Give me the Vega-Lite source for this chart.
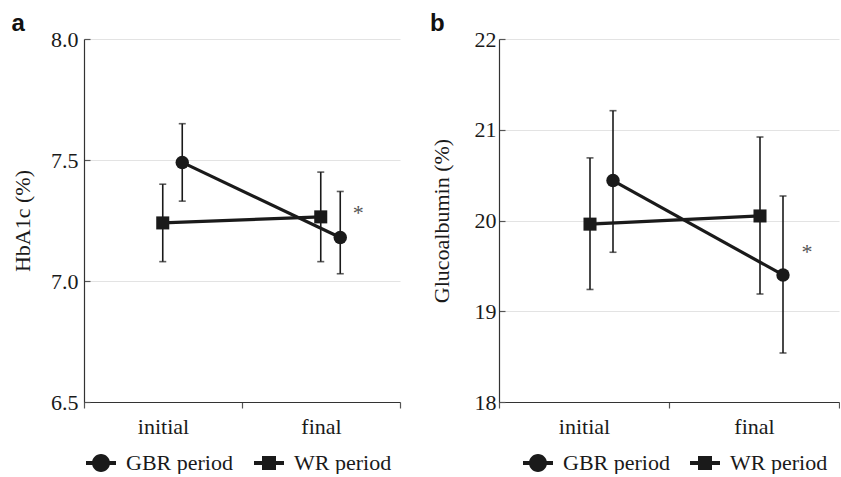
{
  "$schema": "https://vega.github.io/schema/vega-lite/v6.json",
  "padding": {"left": 11, "top": 12, "right": 0, "bottom": 0},
  "spacing": 29,
  "datasets": {
    "hba1c": [
      {"period": "initial", "series": "GBR period", "mean": 7.49, "lo": 7.33, "hi": 7.65, "sig": ""},
      {"period": "final", "series": "GBR period", "mean": 7.18, "lo": 7.03, "hi": 7.37, "sig": "*"},
      {"period": "initial", "series": "WR period", "mean": 7.24, "lo": 7.08, "hi": 7.40, "sig": ""},
      {"period": "final", "series": "WR period", "mean": 7.265, "lo": 7.08, "hi": 7.45, "sig": ""}
    ],
    "ga": [
      {"period": "initial", "series": "GBR period", "mean": 20.44, "lo": 19.65, "hi": 21.21, "sig": ""},
      {"period": "final", "series": "GBR period", "mean": 19.40, "lo": 18.54, "hi": 20.27, "sig": "*"},
      {"period": "initial", "series": "WR period", "mean": 19.96, "lo": 19.24, "hi": 20.69, "sig": ""},
      {"period": "final", "series": "WR period", "mean": 20.05, "lo": 19.19, "hi": 20.92, "sig": ""}
    ]
  },
  "config": {
    "font": "Liberation Serif",
    "view": {"stroke": null},
    "axis": {
      "labelFont": "Liberation Serif", "labelFontSize": 22, "labelColor": "#1a1a1a",
      "titleFont": "Liberation Serif", "titleFontSize": 22, "titleFontWeight": "normal", "titleColor": "#1a1a1a",
      "domainColor": "#333333", "tickColor": "#555555", "gridColor": "#e3e3e3", "domainWidth": 1.2, "tickWidth": 1.2
    },
    "title": {"font": "Liberation Sans", "fontSize": 24, "fontWeight": "bold", "anchor": "start", "frame": "bounds", "offset": -8, "color": "#111111"}
  },
  "resolve": {"scale": {"shape": "independent", "xOffset": "independent", "x": "independent", "y": "independent"}, "legend": {"shape": "independent"}},
  "hconcat": [
    {
      "width": 316, "height": 363,
      "title": {"text": "a"},
      "data": {"name": "hba1c"},
      "encoding": {
        "x": {"field": "period", "type": "nominal", "sort": ["initial", "final"], "title": null,
              "scale": {"paddingInner": 0, "paddingOuter": 0},
              "axis": {"labelAngle": 0, "tickBand": "extent", "tickSize": 6, "labelPadding": 8, "grid": false}},
        "xOffset": {"field": "series", "type": "nominal",
                    "scale": {"domain": ["WR period", "GBR period"], "range": [69, 108], "paddingInner": 0, "paddingOuter": 0}}
      },
      "layer": [
        {
          "mark": {"type": "rule", "color": "#1a1a1a", "strokeWidth": 1.6},
          "encoding": {
            "y": {"field": "lo", "type": "quantitative", "title": "HbA1c (%)",
                  "scale": {"domain": [6.5, 8.0], "nice": false, "zero": false},
                  "axis": {"values": [6.5, 7.0, 7.5, 8.0], "format": ".1f", "grid": true, "tickSize": -6, "labelPadding": 12, "titlePadding": 16}},
            "y2": {"field": "hi"}
          }
        },
        {
          "mark": {"type": "tick", "color": "#1a1a1a", "size": 7, "thickness": 1.6, "orient": "horizontal"},
          "encoding": {"y": {"field": "lo", "type": "quantitative"}}
        },
        {
          "mark": {"type": "tick", "color": "#1a1a1a", "size": 7, "thickness": 1.6, "orient": "horizontal"},
          "encoding": {"y": {"field": "hi", "type": "quantitative"}}
        },
        {
          "mark": {"type": "line", "color": "#1a1a1a", "strokeWidth": 3.2},
          "encoding": {"y": {"field": "mean", "type": "quantitative"}, "detail": {"field": "series"}}
        },
        {
          "mark": {"type": "point", "filled": true, "opacity": 1, "color": "#1a1a1a"},
          "encoding": {
            "y": {"field": "mean", "type": "quantitative"},
            "shape": {"field": "series", "type": "nominal", "scale": {"domain": ["GBR period", "WR period"], "range": ["circle", "square"]}, "legend": null},
            "size": {"field": "series", "type": "nominal", "scale": {"domain": ["GBR period", "WR period"], "range": [180, 170]}, "legend": null}
          }
        },
        {
          "transform": [{"filter": "datum.sig == '*'"}],
          "mark": {"type": "text", "dx": 18, "dy": -24, "fontSize": 22, "font": "Liberation Serif", "color": "#555555"},
          "encoding": {"y": {"field": "mean", "type": "quantitative"}, "text": {"field": "sig"}}
        },
        {
          "mark": {"type": "point", "opacity": 0, "filled": true, "color": "#1a1a1a"},
          "encoding": {
            "y": {"field": "mean", "type": "quantitative"},
            "shape": {"field": "series", "type": "nominal",
                      "scale": {"domain": ["GBR period", "WR period"],
                                "range": ["M-1.5,-0.2H1.5V0.2H-1.5ZM0.9,0A0.9,0.9,0,1,1,-0.9,0A0.9,0.9,0,1,1,0.9,0Z", "M-1.5,-0.2H1.5V0.2H-1.5ZM-0.7,-0.7H0.7V0.7H-0.7Z"]},
                      "legend": {"title": null, "orient": "none", "legendX": 6, "legendY": 413, "direction": "horizontal",
                                 "labelFont": "Liberation Serif", "labelFontSize": 22, "labelColor": "#1a1a1a",
                                 "symbolSize": 400, "labelOffset": 14, "columnPadding": 21,
                                 "symbolFillColor": "#1a1a1a", "symbolStrokeWidth": 0, "symbolOpacity": 1,
                                 "encode": {"symbols": {"update": {"opacity": {"value": 1}, "fill": {"value": "#1a1a1a"}}}}}}
          }
        }
      ],
      "resolve": {"scale": {"shape": "independent", "size": "independent"}}
    },
    {
      "width": 340, "height": 363,
      "title": {"text": "b"},
      "data": {"name": "ga"},
      "encoding": {
        "x": {"field": "period", "type": "nominal", "sort": ["initial", "final"], "title": null,
              "scale": {"paddingInner": 0, "paddingOuter": 0},
              "axis": {"labelAngle": 0, "tickBand": "extent", "tickSize": 6, "labelPadding": 8, "grid": false}},
        "xOffset": {"field": "series", "type": "nominal",
                    "scale": {"domain": ["WR period", "GBR period"], "range": [79.5, 125.5], "paddingInner": 0, "paddingOuter": 0}}
      },
      "layer": [
        {
          "mark": {"type": "rule", "color": "#1a1a1a", "strokeWidth": 1.6},
          "encoding": {
            "y": {"field": "lo", "type": "quantitative", "title": "Glucoalbumin (%)",
                  "scale": {"domain": [18, 22], "nice": false, "zero": false},
                  "axis": {"values": [18, 19, 20, 21, 22], "format": "d", "grid": true, "tickSize": -6, "labelPadding": 9, "titlePadding": 21}},
            "y2": {"field": "hi"}
          }
        },
        {
          "mark": {"type": "tick", "color": "#1a1a1a", "size": 7, "thickness": 1.6, "orient": "horizontal"},
          "encoding": {"y": {"field": "lo", "type": "quantitative"}}
        },
        {
          "mark": {"type": "tick", "color": "#1a1a1a", "size": 7, "thickness": 1.6, "orient": "horizontal"},
          "encoding": {"y": {"field": "hi", "type": "quantitative"}}
        },
        {
          "mark": {"type": "line", "color": "#1a1a1a", "strokeWidth": 3.2},
          "encoding": {"y": {"field": "mean", "type": "quantitative"}, "detail": {"field": "series"}}
        },
        {
          "mark": {"type": "point", "filled": true, "opacity": 1, "color": "#1a1a1a"},
          "encoding": {
            "y": {"field": "mean", "type": "quantitative"},
            "shape": {"field": "series", "type": "nominal", "scale": {"domain": ["GBR period", "WR period"], "range": ["circle", "square"]}, "legend": null},
            "size": {"field": "series", "type": "nominal", "scale": {"domain": ["GBR period", "WR period"], "range": [180, 170]}, "legend": null}
          }
        },
        {
          "transform": [{"filter": "datum.sig == '*'"}],
          "mark": {"type": "text", "dx": 24, "dy": -23, "fontSize": 22, "font": "Liberation Serif", "color": "#555555"},
          "encoding": {"y": {"field": "mean", "type": "quantitative"}, "text": {"field": "sig"}}
        },
        {
          "mark": {"type": "point", "opacity": 0, "filled": true, "color": "#1a1a1a"},
          "encoding": {
            "y": {"field": "mean", "type": "quantitative"},
            "shape": {"field": "series", "type": "nominal",
                      "scale": {"domain": ["GBR period", "WR period"],
                                "range": ["M-1.5,-0.2H1.5V0.2H-1.5ZM0.9,0A0.9,0.9,0,1,1,-0.9,0A0.9,0.9,0,1,1,0.9,0Z", "M-1.5,-0.2H1.5V0.2H-1.5ZM-0.7,-0.7H0.7V0.7H-0.7Z"]},
                      "legend": {"title": null, "orient": "none", "legendX": 28, "legendY": 413, "direction": "horizontal",
                                 "labelFont": "Liberation Serif", "labelFontSize": 22, "labelColor": "#1a1a1a",
                                 "symbolSize": 400, "labelOffset": 14, "columnPadding": 20,
                                 "symbolFillColor": "#1a1a1a", "symbolStrokeWidth": 0, "symbolOpacity": 1,
                                 "encode": {"symbols": {"update": {"opacity": {"value": 1}, "fill": {"value": "#1a1a1a"}}}}}}
          }
        }
      ],
      "resolve": {"scale": {"shape": "independent", "size": "independent"}}
    }
  ]
}
